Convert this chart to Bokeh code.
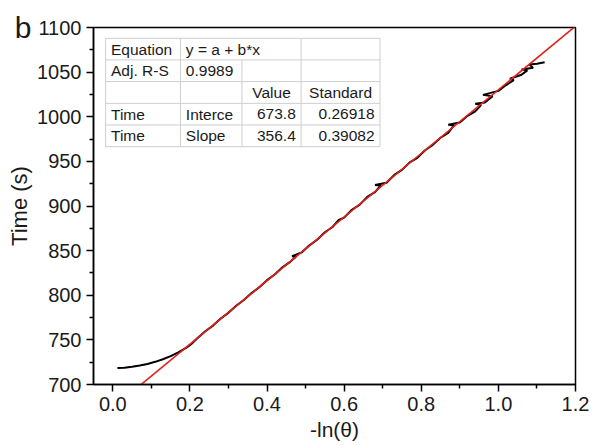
from bokeh.plotting import figure
from bokeh.models import FixedTicker, LinearAxis
from bokeh.core.properties import value
from bokeh.embed import file_html
from bokeh.resources import INLINE

# ---- data ----
ln_theta = [0.012, 0.03, 0.05, 0.07, 0.09, 0.11, 0.13, 0.15, 0.17, 0.19, 0.205,
            0.22, 0.24, 0.26, 0.28, 0.30, 0.32, 0.34, 0.36, 0.38, 0.40, 0.42, 0.44,
            0.46, 0.475, 0.465, 0.49, 0.51, 0.53, 0.55, 0.57, 0.585, 0.60, 0.62, 0.64, 0.66,
            0.68, 0.695, 0.68, 0.71, 0.73, 0.75, 0.77, 0.79, 0.81, 0.83, 0.85, 0.87,
            0.885, 0.87, 0.90, 0.92, 0.94, 0.955, 0.94, 0.965, 0.985, 0.96, 1.00,
            1.02, 1.04, 1.03, 1.06, 1.075, 1.06, 1.09, 1.08, 1.10, 1.12]
time_s = [718.5, 718.9, 719.8, 721.2, 723.0, 725.4, 728.3, 731.8, 736.0, 741.0, 745.8,
          752.0, 759.6, 766.0, 773.9, 780.3, 788.2, 794.6, 802.4, 809.0, 816.9, 823.2, 831.3,
          837.4, 843.2, 843.8, 848.0, 855.9, 862.2, 870.6, 876.5, 884.0, 887.0, 895.8, 901.2, 910.2,
          915.6, 923.0, 923.6, 926.0, 934.8, 940.5, 948.9, 954.0, 962.5, 968.5, 976.5, 982.0,
          990.5, 991.0, 993.5, 1001.0, 1006.0, 1013.0, 1014.5, 1016.0, 1023.0, 1024.5, 1029.0,
          1035.5, 1041.0, 1042.5, 1047.0, 1052.0, 1053.0, 1055.0, 1058.5, 1059.5, 1061.0]

fit_a = 673.8       # intercept
fit_b = 356.4       # slope
fit_x = [0.0, 1.25]
fit_y = [fit_a + fit_b * v for v in fit_x]

x_ticks = [0.0, 0.2, 0.4, 0.6, 0.8, 1.0, 1.2]
x_tick_labels = ["0.0", "0.2", "0.4", "0.6", "0.8", "1.0", "1.2"]
x_minor = [0.1, 0.3, 0.5, 0.7, 0.9, 1.1]
y_ticks = [700, 750, 800, 850, 900, 950, 1000, 1050, 1100]
y_tick_labels = ["700", "750", "800", "850", "900", "950", "1000", "1050", "1100"]
y_minor = [725, 775, 825, 875, 925, 975, 1025, 1075]

table_col1 = ["Equation", "Adj. R-S", "", "Time", "Time"]
table_col2 = ["y = a + b*x", "0.9989", "", "Interce", "Slope"]
table_col3 = ["", "", "Value", "673.8", "356.4"]
table_col4 = ["", "", "Standard", "0.26918", "0.39082"]

panel_letter = "b"

# ---- layout ----
FONT = "Liberation Sans"
p = figure(width=593, height=446, x_range=(-0.05, 1.2), y_range=(700, 1100),
           output_backend="svg", toolbar_location=None,
           min_border_left=93, min_border_right=18, min_border_top=27, min_border_bottom=62)
p.background_fill_color = "white"
p.border_fill_color = "white"
p.outline_line_color = "black"
p.outline_line_width = 1.5
p.xgrid.visible = False
p.ygrid.visible = False

# table (placed in data coordinates)
tx = [-0.0186, 0.1755, 0.335, 0.4885, 0.693]
ty = [1087.9, 1063.7, 1039.4, 1015.0, 990.8, 966.5]
grid_c = "#cfcfcf"
p.quad(left=tx[0], right=tx[-1], top=ty[0], bottom=ty[-1],
       fill_color="white", line_color=grid_c, line_width=1)
p.segment(x0=[tx[0]] * 4, x1=[tx[-1]] * 4, y0=ty[1:5], y1=ty[1:5], line_color=grid_c, line_width=1)
p.segment(x0=[tx[1], tx[2], tx[3]], x1=[tx[1], tx[2], tx[3]],
          y0=[ty[0], ty[1], ty[0]], y1=[ty[-1], ty[-1], ty[-1]], line_color=grid_c, line_width=1)
row_y = [(ty[i] + ty[i + 1]) / 2 for i in range(5)]
pad = 0.014
tkw = dict(text_font=value(FONT), text_font_size="15.5px", text_baseline="middle", text_color="#1a1a1a")
p.text(x=[tx[0] + pad] * 5, y=row_y, text=table_col1, text_align="left", **tkw)
p.text(x=[tx[1] + pad] * 5, y=row_y, text=table_col2, text_align="left", **tkw)
c3 = [(tx[2] + tx[3]) / 2 if i == 2 else tx[3] - pad for i in range(5)]
c4 = [(tx[3] + tx[4]) / 2 if i == 2 else tx[4] - pad for i in range(5)]
aligns = ["center" if i == 2 else "right" for i in range(5)]
p.text(x=c3, y=row_y, text=table_col3, text_align=aligns, **tkw)
p.text(x=c4, y=row_y, text=table_col4, text_align=aligns, **tkw)

# data and fit
p.line(ln_theta, time_s, line_color="black", line_width=2)
p.line(fit_x, fit_y, line_color="#e3201b", line_width=1.6)

# axes
p.xaxis.ticker = FixedTicker(ticks=x_ticks, minor_ticks=x_minor)
p.xaxis.major_label_overrides = {t: l for t, l in zip(x_ticks, x_tick_labels)}
p.yaxis.ticker = FixedTicker(ticks=y_ticks, minor_ticks=y_minor)
p.yaxis.major_label_overrides = {t: l for t, l in zip(y_ticks, y_tick_labels)}
for ax in (p.xaxis[0], p.yaxis[0]):
    ax.axis_line_width = 1.5
    ax.major_tick_line_width = 1.5
    ax.minor_tick_line_width = 1.5
    ax.major_tick_in = 0
    ax.major_tick_out = 7
    ax.minor_tick_in = 0
    ax.minor_tick_out = 4
    ax.major_label_text_font = FONT
    ax.major_label_text_font_size = "20px"
    ax.major_label_text_color = "#1a1a1a"
    ax.axis_label_text_font = FONT
    ax.axis_label_text_font_size = "21px"
    ax.axis_label_text_font_style = "normal"
    ax.axis_label_text_color = "#1a1a1a"
p.yaxis.axis_label_text_font_size = "22px"
p.xaxis.axis_label = "-ln(θ)"
p.yaxis.axis_label = "Time (s)"
p.xaxis.major_label_standoff = 5
p.yaxis.major_label_standoff = 5
p.xaxis.axis_label_standoff = 4
p.yaxis.axis_label_standoff = 2

# panel letter "b" next to the top y tick, carried by a bare outer axis
letter_axis = LinearAxis(ticker=FixedTicker(ticks=[1100], minor_ticks=[]),
                         major_label_overrides={1100: panel_letter},
                         axis_line_color=None, major_tick_line_color=None,
                         minor_tick_line_color=None, major_tick_out=0, major_tick_in=0,
                         minor_tick_out=0, minor_tick_in=0,
                         major_label_standoff=-27,
                         major_label_text_font=FONT, major_label_text_font_size="30px",
                         major_label_text_color="#1a1a1a")
p.add_layout(letter_axis, "left")

open("out.html", "w").write(file_html(p, INLINE))
